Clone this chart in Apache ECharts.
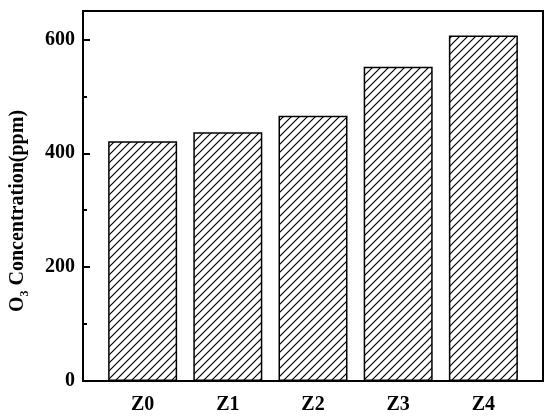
<!DOCTYPE html>
<html>
<head>
<meta charset="utf-8">
<script src="https://cdn.jsdelivr.net/npm/echarts@6/dist/echarts.min.js"></script>
<style>
  html, body { margin: 0; padding: 0; background: #fff; }
  #main { width: 550px; height: 418px; }
</style>
</head>
<body>
<div id="main"></div>
<script>
    // 数据
    var categories = ['Z0', 'Z1', 'Z2', 'Z3', 'Z4'];
    var o3Values = [421, 437, 466, 552, 607];
    var yMajor = [0, 200, 400, 600];
    var yMinor = [100, 300, 500];

    var FONT = '"Liberation Serif", "Times New Roman", serif';

    // 斜线填充
    function makeHatch() {
        var c = document.createElement('canvas');
        c.width = 8;
        c.height = 8;
        var ctx = c.getContext('2d');
        ctx.fillStyle = '#fff';
        ctx.fillRect(0, 0, 8, 8);
        ctx.strokeStyle = '#000';
        ctx.lineWidth = 1.2;
        ctx.beginPath();
        ctx.moveTo(0, 8); ctx.lineTo(8, 0);
        ctx.moveTo(-2, 2); ctx.lineTo(2, -2);
        ctx.moveTo(6, 10); ctx.lineTo(10, 6);
        ctx.stroke();
        return c;
    }

    // 只画刻度的辅助轴
    function tickAxis(values, len) {
        return {
            type: 'value',
            position: 'left',
            min: 0,
            max: 650,
            splitLine: { show: false },
            axisLine: { show: false, onZero: false },
            axisTick: { show: true, inside: true, length: len, customValues: values, lineStyle: { color: '#000', width: 2 } },
            axisLabel: { show: false }
        };
    }

    var chart = echarts.init(document.getElementById('main'));

    var option = {
        animation: false,
        grid: {
            left: 80, right: 7, top: 11, bottom: 37,
            show: true,
            borderColor: '#000',
            borderWidth: 2
        },
        xAxis: {
            type: 'value',
            min: -0.7,
            max: 4.7,
            splitLine: { show: false },
            axisLine: { show: true, onZero: false, lineStyle: { color: '#000', width: 2 } },
            axisTick: { show: false },
            axisLabel: {
                customValues: categories.map(function (c, i) { return i; }),
                formatter: function (v) { return categories[Math.round(v)]; },
                margin: 14,
                color: '#000',
                fontFamily: FONT,
                fontWeight: 'bold',
                fontSize: 20
            }
        },
        yAxis: [
            {
                type: 'value',
                min: 0,
                max: 650,
                name: '{a|O}{b|3}{a| Concentration(ppm)}',
                nameLocation: 'middle',
                nameGap: 52,
                nameTextStyle: {
                    padding: [0, 30, 0, 0],
                    rich: {
                        a: { fontFamily: FONT, fontWeight: 'bold', fontSize: 20, color: '#000', lineHeight: 26 },
                        b: { fontFamily: FONT, fontWeight: 'bold', fontSize: 12, color: '#000', lineHeight: 12, verticalAlign: 'bottom' }
                    }
                },
                splitLine: { show: false },
                axisLine: { show: true, onZero: false, lineStyle: { color: '#000', width: 2 } },
                axisTick: { show: false },
                axisLabel: {
                    customValues: yMajor,
                    margin: 8,
                    color: '#000',
                    fontFamily: FONT,
                    fontWeight: 'bold',
                    fontSize: 20
                }
            },
            tickAxis(yMajor, 7),
            tickAxis(yMinor, 4)
        ],
        series: [
            {
                type: 'bar',
                barWidth: 69,
                data: o3Values.map(function (v, i) { return [i, v]; }),
                itemStyle: {
                    color: { image: makeHatch(), repeat: 'repeat' },
                    borderColor: '#000',
                    borderWidth: 1.5
                }
            }
        ]
    };

    chart.setOption(option);
</script>
</body>
</html>
